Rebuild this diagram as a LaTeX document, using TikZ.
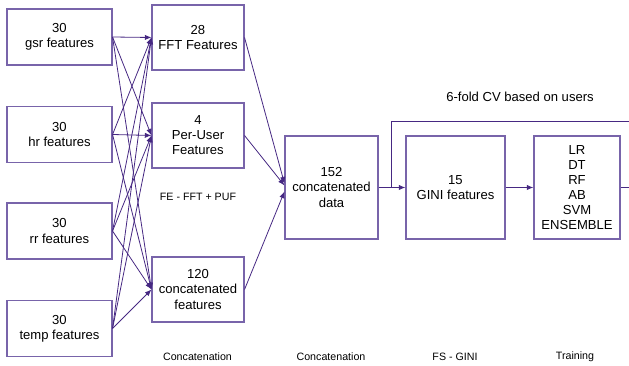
\documentclass[tikz,border=0pt]{standalone}
\usepackage{fontspec}
\setmainfont{Liberation Sans}
\usetikzlibrary{arrows.meta,calc}
\definecolor{boxc}{RGB}{120,100,170}
\definecolor{linec}{RGB}{70,40,130}
\begin{document}
\begin{tikzpicture}[x=0.75pt,y=-0.75pt,
  box/.style={draw=boxc,line width=0.8pt,align=center,inner sep=0pt,
    font=\fontsize{9.8pt}{11.3pt}\selectfont},
  inbox/.style={box,minimum width=78.75pt,minimum height=42pt},
  midbox/.style={box,minimum width=69pt,minimum height=48.75pt},
  conn/.style={draw=linec,line width=0.6pt,-{Latex[length=5pt,width=4pt]}},
  plain/.style={draw=linec,line width=0.6pt},
  lbl/.style={font=\fontsize{8pt}{9pt}\selectfont,inner sep=0pt}]
\useasboundingbox (0,0) rectangle (629,366);
\node[inbox] (gsr) at (59.5,37) {30\\gsr features};
\node[inbox] (hr) at (59.5,134.5) {30\\hr features};
\node[inbox] (rr) at (59.5,231) {30\\rr features};
\node[inbox] (temp) at (59.5,328.5) {30\\temp features};
\node[midbox] (fft) at (198,37.5) {28\\FFT Features};
\node[midbox] (pu) at (198,135.5) {4\\Per-User\\Features};
\node[midbox] (cf) at (198,289.5) {120\\concatenated\\features};
\node[box,minimum width=69.75pt,minimum height=77.25pt] (cd) at (331.5,187.5) {152\\concatenated\\data};
\node[box,minimum width=74.25pt,minimum height=77.25pt] (gini) at (455.5,187.5) {15\\GINI features};
\node[box,minimum width=64.5pt,minimum height=77.25pt] (cls) at (577,187.5) {LR\\DT\\RF\\AB\\SVM\\ENSEMBLE};
\foreach \s in {gsr,hr,rr,temp}{
  \foreach \t in {fft,pu,cf}{
    \draw[conn] (\s.east) -- (\t.west);
  }
}
\draw[conn] (fft.east) -- ($(cd.west)+(0,-4)$);
\draw[conn] (pu.east) -- ($(cd.west)+(0,-2)$);
\draw[conn] (cf.east) -- ($(cd.west)+(0,4)$);
\draw[conn] (cd.east) -- (gini.west);
\draw[conn] (gini.east) -- (cls.west);
\coordinate (out) at (629,187.5);
\coordinate (fb) at (391,187.5);
\coordinate (fbend) at (629,121);
\draw[plain] (cls.east) -- (out);
\draw[plain] (fb) |- (fbend);
\node[font=\fontsize{9.8pt}{11pt}\selectfont,inner sep=0pt] (cv) at (520,97) {6-fold CV based on users};
\node[lbl] (fe) at (198,197) {FE - FFT + PUF};
\node[lbl] (l1) at (197.5,357) {Concatenation};
\node[lbl] (l2) at (331,357) {Concatenation};
\node[lbl] (l3) at (455,357) {FS - GINI};
\node[lbl] (l4) at (575,357) {Training};
\end{tikzpicture}
\end{document}
